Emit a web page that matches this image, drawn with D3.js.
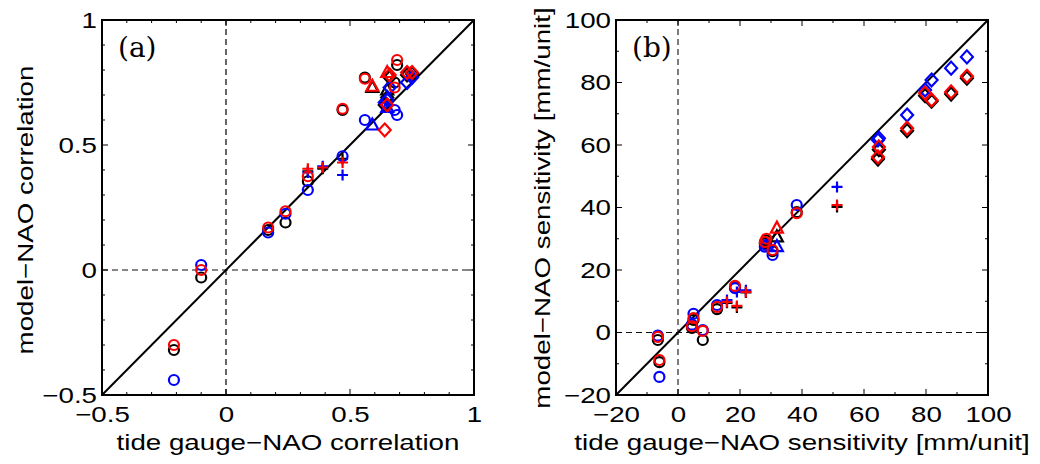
<!DOCTYPE html>
<html>
<head>
<meta charset="utf-8">
<script src="https://cdn.jsdelivr.net/npm/d3@7"></script>
<style>
  body { margin: 0; background: #fff; }
  svg { display: block; }
  .tick text { font-family: "Liberation Sans", Arial, sans-serif; font-size: 22px; fill: #000; }
  .title { font-family: "Liberation Sans", Arial, sans-serif; font-size: 22px; fill: #000; }
  .panel { font-family: "DejaVu Serif", "Liberation Serif", serif; font-size: 28px; fill: #000; }
</style>
</head>
<body>
<svg id="chart" width="1040" height="464"></svg>
<script>
// ---- panel (a): correlation ----
const corrShapes = ["o", "o", "o", "o", "o", "o", "o", "o", "o",
  "+", "+", "+", "^", "^", "d", "d", "d", "d", "d"];
const corrTideGauge = [-0.21, -0.10, 0.17, 0.24, 0.33, 0.47, 0.56, 0.69, 0.68,
  0.33, 0.39, 0.47, 0.59, 0.65, 0.65, 0.64, 0.73, 0.75, 0.66];
const corrModelBlack = [-0.32, -0.03, 0.16, 0.19, 0.355, 0.64, 0.77, 0.82, 0.75,
  0.395, 0.405, 0.445, 0.73, 0.72, 0.69, 0.66, 0.78, 0.785, 0.77];
const corrModelBlue = [-0.44, 0.02, 0.15, 0.225, 0.32, 0.455, 0.60, 0.62, 0.64,
  0.39, 0.415, 0.38, 0.58, 0.65, 0.68, 0.67, 0.75, 0.77, 0.73];
const corrModelRed = [-0.30, 0.00, 0.17, 0.235, 0.375, 0.645, 0.765, 0.84, 0.73,
  0.405, 0.41, 0.43, 0.735, 0.79, 0.66, 0.56, 0.79, 0.79, 0.78];
const corrTicks = [-0.5, 0, 0.5, 1];
const corrTickLabels = ["\u22120.5", "0", "0.5", "1"];
const corrMinor = [-0.4, -0.3, -0.2, -0.1, 0.1, 0.2, 0.3, 0.4, 0.6, 0.7, 0.8, 0.9];

// ---- panel (b): sensitivity ----
const sensShapes = ["o", "o", "o", "o", "o", "o", "o", "o", "o", "o", "o",
  "+", "+", "+", "+", "^", "d", "d", "d", "d", "d", "d", "d"];
const sensTideGauge = [-6.5, -6, 5, 4.5, 8, 12.6, 18.4, 28, 30.5, 38.3, 28.5,
  15.8, 19, 21.9, 51.3, 31.9, 64.8, 64.5, 73.9, 79.7, 81.8, 88.1, 93.2];
const sensModelBlack = [-2.4, -9.5, 4, 1.5, -2.4, 7.5, 14.5, 28.5, 26, 38.5, 29.5,
  9.5, 8, 12.8, 40.2, 30.6, 58.5, 55.5, 64.6, 75.8, 74, 76.3, 81.4];
const sensModelBlue = [-1, -14.2, 6, 2.5, 0.8, 8.8, 14.2, 27.5, 24.8, 40.8, 28,
  10.4, 13, 13.5, 46.6, 27.5, 62.2, 61.6, 69.6, 77.6, 80.8, 84.6, 88.2];
const sensModelRed = [-1.4, -8.8, 4.6, 2, 0.5, 8.2, 14.9, 29, 26.4, 38.2, 30,
  9.8, 8.5, 13, 40.8, 33.4, 59.4, 56.2, 65.4, 76.6, 74.4, 77, 82];
const sensTicks = [-20, 0, 20, 40, 60, 80, 100];
const sensTickLabels = ["\u221220", "0", "20", "40", "60", "80", "100"];
const sensMinor = [-10, 10, 30, 50, 70, 90];

const seriesColors = ["#000000", "#0000ff", "#ff0000"];
const textStretch = 1.26; // the reference's sans text is wide

const svg = d3.select("#chart");

// marker outline for a shape code, centred on 0,0
function markerPath(shape) {
  const p = d3.path();
  if (shape === "o") {
    p.moveTo(5, 0);
    p.arc(0, 0, 5, 0, 2 * Math.PI);
  } else if (shape === "+") {
    p.moveTo(-5.5, 0); p.lineTo(5.5, 0);
    p.moveTo(0, -5.5); p.lineTo(0, 5.5);
  } else if (shape === "^") {
    p.moveTo(0, -6.5); p.lineTo(6, 4.5); p.lineTo(-6, 4.5); p.closePath();
  } else if (shape === "d") {
    p.moveTo(0, -6.5); p.lineTo(6, 0); p.lineTo(0, 6.5); p.lineTo(-6, 0); p.closePath();
  }
  return p.toString();
}

function drawPanel(opt) {
  const x = d3.scaleLinear().domain(opt.domain).range([opt.left, opt.right]);
  const y = d3.scaleLinear().domain(opt.domain).range([395, 20]);
  const g = svg.append("g");

  // zero reference lines
  g.append("line")
    .attr("x1", x(0)).attr("x2", x(0)).attr("y1", y.range()[0]).attr("y2", y.range()[1])
    .attr("stroke", opt.vColor).attr("stroke-width", opt.vWidth).attr("stroke-dasharray", "6,4");
  g.append("line")
    .attr("x1", opt.left).attr("x2", opt.right).attr("y1", y(0)).attr("y2", y(0))
    .attr("stroke", "#111").attr("stroke-width", 1.1).attr("stroke-dasharray", "6,4");

  // 1:1 line
  g.append("line")
    .attr("x1", x(opt.domain[0])).attr("y1", y(opt.domain[0]))
    .attr("x2", x(opt.domain[1])).attr("y2", y(opt.domain[1]))
    .attr("stroke", "#000").attr("stroke-width", 2);

  // markers: black, then blue, then red on top
  [opt.black, opt.blue, opt.red].forEach(function (vals, i) {
    g.append("g")
      .selectAll("path")
      .data(vals)
      .join("path")
      .attr("transform", (d, j) => `translate(${x(opt.obs[j])},${y(d)})`)
      .attr("d", (d, j) => markerPath(opt.shapes[j]))
      .attr("fill", "none")
      .attr("stroke", seriesColors[i])
      .attr("stroke-width", 2.2);
  });

  // inward ticks on all four sides
  const ticks = opt.ticks.map((v) => ({ v: v, len: 6 }))
    .concat(opt.minor.map((v) => ({ v: v, len: 3 })));
  const tg = g.append("g").attr("stroke", "#000").attr("stroke-width", 1);
  ticks.forEach(function (t) {
    tg.append("line").attr("x1", x(t.v)).attr("x2", x(t.v)).attr("y1", 395).attr("y2", 395 - t.len);
    tg.append("line").attr("x1", x(t.v)).attr("x2", x(t.v)).attr("y1", 20).attr("y2", 20 + t.len);
    tg.append("line").attr("y1", y(t.v)).attr("y2", y(t.v)).attr("x1", opt.left).attr("x2", opt.left + t.len);
    tg.append("line").attr("y1", y(t.v)).attr("y2", y(t.v)).attr("x1", opt.right).attr("x2", opt.right - t.len);
  });

  // tick labels
  const xAxis = g.append("g").attr("transform", "translate(0,395)")
    .call(d3.axisBottom(x).tickValues(opt.ticks).tickSize(0).tickPadding(11)
      .tickFormat((d, i) => opt.labels[i]));
  xAxis.select(".domain").remove();
  const yAxis = g.append("g").attr("transform", `translate(${opt.left},0)`)
    .call(d3.axisLeft(y).tickValues(opt.ticks).tickSize(0).tickPadding(5)
      .tickFormat((d, i) => opt.labels[i]));
  yAxis.select(".domain").remove();

  // frame
  g.append("rect")
    .attr("x", opt.left).attr("y", 20)
    .attr("width", opt.right - opt.left).attr("height", 375)
    .attr("fill", "none").attr("stroke", "#000").attr("stroke-width", 2);

  // titles
  g.append("text").attr("class", "title")
    .attr("x", (opt.left + opt.right) / 2).attr("y", 450)
    .attr("text-anchor", "middle").text(opt.xTitle);
  g.append("text").attr("class", "title")
    .attr("transform", `translate(${opt.yTitleX},${opt.yTitleY}) rotate(-90)`)
    .attr("text-anchor", "middle").text(opt.yTitle);
  g.append("text").attr("class", "panel")
    .attr("x", opt.left + 16).attr("y", 57).text(opt.panel);
}

drawPanel({
  domain: [-0.5, 1], left: 102, right: 474,
  obs: corrTideGauge, shapes: corrShapes,
  black: corrModelBlack, blue: corrModelBlue, red: corrModelRed,
  ticks: corrTicks, labels: corrTickLabels, minor: corrMinor,
  vColor: "#555", vWidth: 1.8,
  xTitle: "tide gauge\u2212NAO correlation",
  yTitle: "model\u2212NAO correlation", yTitleX: 33, yTitleY: 210,
  panel: "(a)"
});

drawPanel({
  domain: [-20, 100], left: 616, right: 988,
  obs: sensTideGauge, shapes: sensShapes,
  black: sensModelBlack, blue: sensModelBlue, red: sensModelRed,
  ticks: sensTicks, labels: sensTickLabels, minor: sensMinor,
  vColor: "#111", vWidth: 1.1,
  xTitle: "tide gauge\u2212NAO sensitivity [mm/unit]",
  yTitle: "model\u2212NAO sensitivity [mm/unit]", yTitleX: 550, yTitleY: 208,
  panel: "(b)"
});

// widen the sans text to match the reference's proportions
svg.selectAll(".tick text, .title").each(function () {
  const len = this.getComputedTextLength();
  d3.select(this)
    .attr("textLength", len * textStretch)
    .attr("lengthAdjust", "spacingAndGlyphs");
});
</script>
</body>
</html>
